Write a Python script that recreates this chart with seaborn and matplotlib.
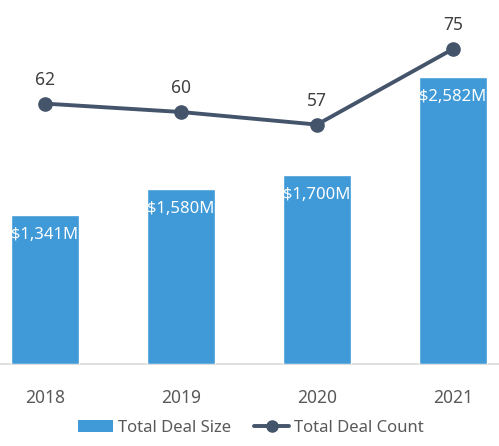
import matplotlib
matplotlib.use("Agg")
import matplotlib.pyplot as plt
import seaborn as sns
import pandas as pd
from matplotlib.patches import Patch
from matplotlib.lines import Line2D

years = ["2018", "2019", "2020", "2021"]
deal_size = [1341, 1580, 1700, 2582]
deal_count = [62, 60, 57, 75]
size_labels = ["$1,341M", "$1,580M", "$1,700M", "$2,582M"]

BAR = "#409AD8"
LINE = "#44546A"
GRAY = "#595959"

sns.set_theme(style="white")
plt.rcParams['font.family'] = ['Noto Sans', 'DejaVu Sans']

fig = plt.figure(figsize=(4.99, 4.46), dpi=100)
ax = fig.add_axes([0, (446 - 364) / 446, 1, 364 / 446])

df = pd.DataFrame({"year": years, "size": deal_size, "count": deal_count})
sns.barplot(data=df, x="year", y="size", color=BAR, width=0.5, saturation=1, ax=ax)
ax.set_xlim(-45 / 136, (499 - 45) / 136)
ax.set_ylim(0, 364 / 0.111)

for i, (v, lab) in enumerate(zip(deal_size, size_labels)):
    ax.annotate(lab, (i, v), xytext=(0, -20), textcoords="offset pixels",
                ha="center", va="center", color="white", fontsize=12)

ax2 = ax.twinx()
ax2.plot(range(len(years)), deal_count, color=LINE, linewidth=2.8, marker="o", markersize=9.5,
         solid_capstyle="round")
ax2.set_ylim(0, 364 / 4.2)
for i, v in enumerate(deal_count):
    ax2.annotate(str(v), (i, v), xytext=(0, 24), textcoords="offset pixels",
                 ha="center", va="center", color="#404040", fontsize=12.5)

for a in (ax, ax2):
    for s in a.spines.values():
        s.set_visible(False)
    a.set_yticks([])
    a.set_ylabel("")
ax.set_xlabel("")
ax.axhline(0, color="#D9D9D9", linewidth=1.2, zorder=0, clip_on=False)
ax.tick_params(axis="x", length=0, pad=18, labelsize=12.5, labelcolor=GRAY)

handles = [Patch(facecolor=BAR, edgecolor="none"),
           Line2D([0], [0], color=LINE, linewidth=2.8, marker="o", markersize=8)]
fig.legend(handles, ["Total Deal Size", "Total Deal Count"], loc="center",
           bbox_to_anchor=(251 / 499, 1 - 428 / 446), ncol=2, frameon=False,
           fontsize=12, labelcolor=GRAY, handlelength=2.1, handleheight=0.75,
           handletextpad=0.3, columnspacing=1.4)

fig.savefig("out.png", dpi=100)
